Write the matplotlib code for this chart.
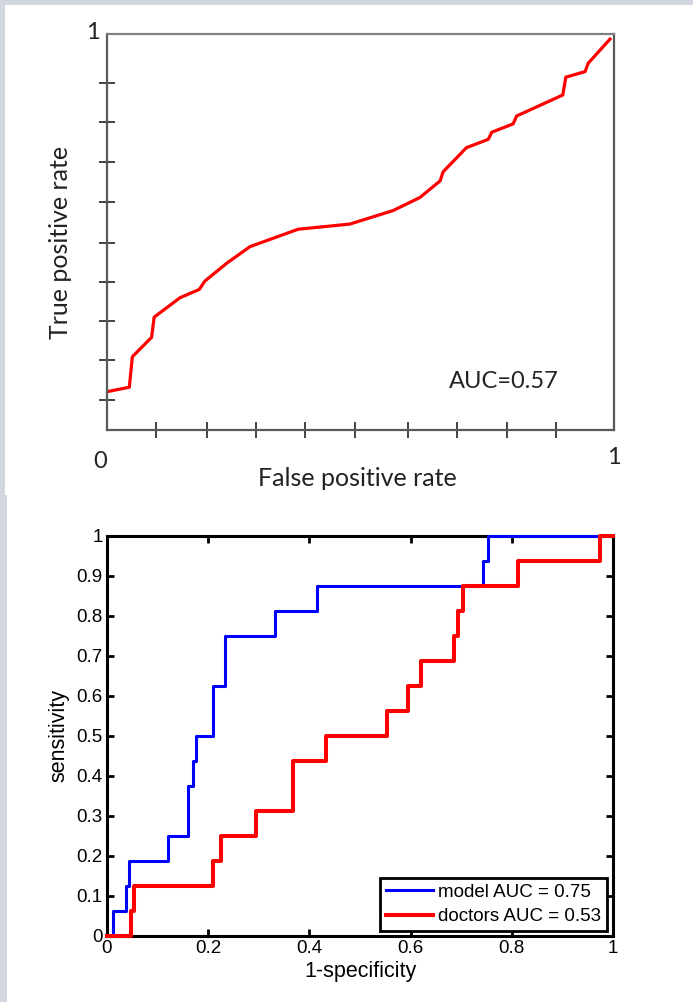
import matplotlib
matplotlib.use("Agg")
import matplotlib.pyplot as plt
from matplotlib.patches import Rectangle

# --------------------------------------------------
# data
# --------------------------------------------------
# top panel: smooth ROC curve
top_fpr = [0.001, 0.044, 0.050, 0.088, 0.093, 0.144, 0.182, 0.193, 0.236, 0.282,
           0.377, 0.479, 0.564, 0.617, 0.657, 0.663, 0.709, 0.752, 0.759, 0.801,
           0.808, 0.899, 0.905, 0.943, 0.949, 0.992]
top_tpr = [0.097, 0.108, 0.185, 0.234, 0.285, 0.334, 0.355, 0.376, 0.421, 0.463,
           0.507, 0.520, 0.554, 0.587, 0.629, 0.652, 0.713, 0.734, 0.752, 0.773,
           0.793, 0.846, 0.891, 0.905, 0.926, 0.987]
top_xticks = [0.097, 0.197, 0.294, 0.390, 0.489, 0.594, 0.690, 0.789, 0.886]
top_yticks = [0.076, 0.177, 0.275, 0.374, 0.472, 0.576, 0.677, 0.778, 0.876]
top_auc = "AUC=0.57"

# bottom panel: step ROC curves
model_fpr = [0, 0.011, 0.037, 0.044, 0.120, 0.161, 0.169, 0.176, 0.210, 0.233,
             0.332, 0.416, 0.744, 0.752, 1.0]
model_tpr = [0, 0.0625, 0.125, 0.1875, 0.25, 0.375, 0.4375, 0.5, 0.625, 0.75,
             0.8125, 0.875, 0.9375, 1.0, 1.0]
doc_fpr = [0, 0.047, 0.054, 0.210, 0.225, 0.294, 0.367, 0.432, 0.554, 0.595,
           0.620, 0.686, 0.694, 0.703, 0.812, 0.974, 1.0]
doc_tpr = [0, 0.0625, 0.125, 0.1875, 0.25, 0.3125, 0.4375, 0.5, 0.5625, 0.625,
           0.6875, 0.75, 0.8125, 0.875, 0.9375, 1.0, 1.0]
bot_xticks = [0, 0.2, 0.4, 0.6, 0.8, 1.0]
bot_xlabels = ["0", "0.2", "0.4", "0.6", "0.8", "1"]
bot_yticks = [0, 0.1, 0.2, 0.3, 0.4, 0.5, 0.6, 0.7, 0.8, 0.9, 1.0]
bot_ylabels = ["0", "0.1", "0.2", "0.3", "0.4", "0.5", "0.6", "0.7", "0.8", "0.9", "1"]

W, H = 693, 1002
fig = plt.figure(figsize=(W / 100, H / 100), dpi=100)
fig.patch.set_facecolor("#d2d6de")

def px(x, y):
    return x / W, 1 - y / H

# white panels (behind everything)
fig.patches.append(Rectangle(px(5, 495), (W - 5) / W, 490 / H,
                             transform=fig.transFigure, facecolor="white",
                             edgecolor="none", zorder=-10))
fig.patches.append(Rectangle(px(7, H), (W - 7) / W, (H - 495) / H,
                             transform=fig.transFigure, facecolor="white",
                             edgecolor="none", zorder=-10))

# --------------------------------------------------
# top panel
# --------------------------------------------------
cal = "Lato"
tc = "#222222"
ax1 = fig.add_axes([107 / W, 1 - 430 / H, 507 / W, 396 / H])
ax1.set_facecolor("none")
ax1.plot(top_fpr, top_tpr, color="#ff0000", lw=2.3, solid_joinstyle="round")
ax1.set_xlim(0, 1)
ax1.set_ylim(0, 1)
for s in ax1.spines.values():
    s.set_color("#5a5a5a")
    s.set_linewidth(1.6)
ax1.spines["top"].set_color("#808080")
ax1.set_xticks(top_xticks, labels=[""] * len(top_xticks))
ax1.set_yticks(top_yticks, labels=[""] * len(top_yticks))
ax1.tick_params(direction="inout", length=11, width=1.2, color=tc)

ax1.text(-0.015, 1.005, "1", transform=ax1.transAxes, ha="right", va="center",
         fontsize=17, family=cal, color=tc)
ax1.text(-0.013, -0.08, "0", transform=ax1.transAxes, ha="center", va="center",
         fontsize=17, family=cal, color=tc)
ax1.text(1.0, -0.07, "1", transform=ax1.transAxes, ha="center", va="center",
         fontsize=17, family=cal, color=tc)
ax1.text(0.675, 0.123, top_auc, transform=ax1.transAxes, ha="left", va="center",
         fontsize=17, family=cal, color=tc)
fig.text(*px(357, 478), "False positive rate", ha="center", va="center",
         fontsize=18, family=cal, color=tc)
fig.text(*px(60, 242), "True positive rate", ha="center", va="center",
         rotation=90, fontsize=18, family=cal, color=tc)

# --------------------------------------------------
# bottom panel
# --------------------------------------------------
ar = "Liberation Sans"
ax2 = fig.add_axes([107 / W, 1 - 936 / H, 506 / W, 400 / H])
ax2.set_facecolor("none")
ax2.plot(model_fpr, model_tpr, drawstyle="steps-post", color="#0000ff", lw=2.2,
         label="model AUC = 0.75", zorder=3, clip_on=False)
ax2.plot(doc_fpr, doc_tpr, drawstyle="steps-post", color="#ff0000", lw=2.9,
         label="doctors AUC = 0.53", zorder=3, clip_on=False)
ax2.set_xlim(0, 1)
ax2.set_ylim(0, 1)
for s in ax2.spines.values():
    s.set_color("black")
    s.set_linewidth(2.2)
ax2.set_xticks(bot_xticks, labels=bot_xlabels)
ax2.set_yticks(bot_yticks, labels=bot_ylabels)
ax2.tick_params(direction="in", length=5, width=2, top=True, right=True,
                labelsize=13.5, pad=3)
for lab in ax2.get_xticklabels() + ax2.get_yticklabels():
    lab.set_family(ar)
ax2.set_xlabel("1-specificity", fontsize=15.5, family=ar, labelpad=3)
ax2.set_ylabel("sensitivity", fontsize=15.5, family=ar, labelpad=5)

leg = ax2.legend(loc="lower right", bbox_to_anchor=(0.988, 0.0125),
                 borderaxespad=0, fancybox=False, framealpha=1,
                 edgecolor="black", handlelength=2.5, handletextpad=0.3,
                 labelspacing=0.4, borderpad=0.3,
                 prop={"family": ar, "size": 13.5})
leg.get_frame().set_linewidth(2)

fig.savefig("out.png", dpi=100, facecolor=fig.get_facecolor())
